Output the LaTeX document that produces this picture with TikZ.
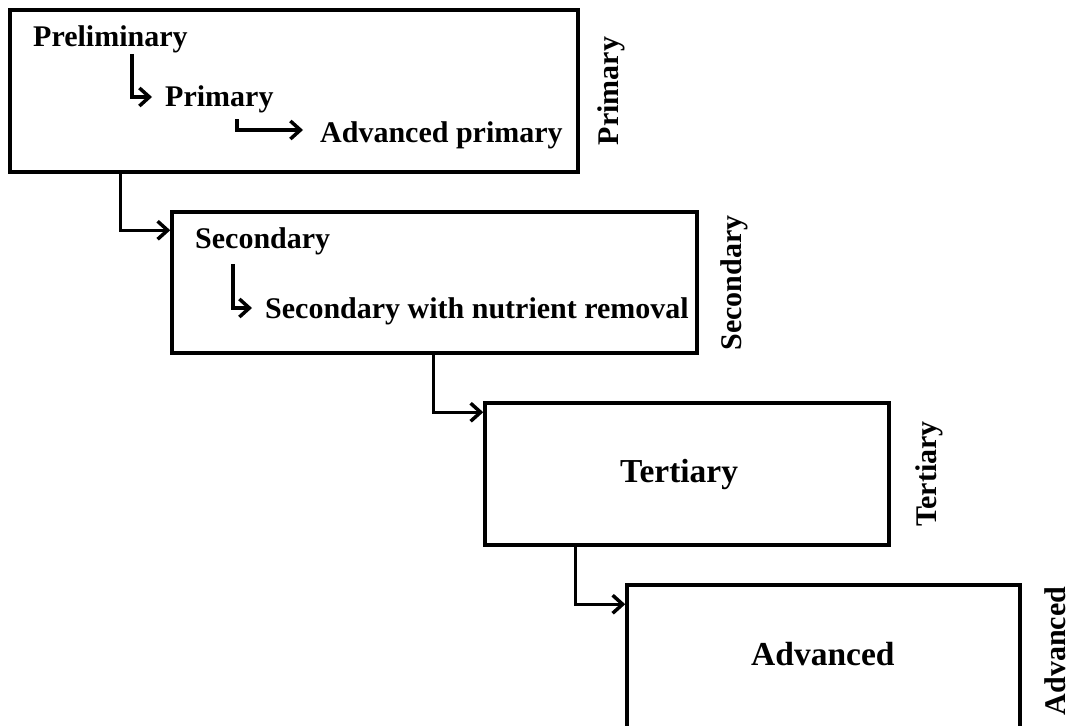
\documentclass[tikz,border=0pt]{standalone}
\usepackage{fontspec}
\setmainfont{Liberation Serif}
\usetikzlibrary{arrows.meta}
\begin{document}
\begin{tikzpicture}[x=1pt,y=-1pt,
    stage/.style={draw, line width=3.5pt, inner sep=0pt},
    txt/.style={font=\fontsize{30}{36}\selectfont\bfseries, inner sep=0pt, anchor=base west},
    bigtxt/.style={font=\fontsize{33.5}{40}\selectfont\bfseries, inner sep=0pt, anchor=base west},
    side/.style={font=\fontsize{30}{36}\selectfont\bfseries, inner sep=0pt, rotate=90},
    arr/.style={-{Straight Barb[length=10pt,width=18pt]}, line width=3.5pt}]
\useasboundingbox (0,0) rectangle (1070,725);
% stages
\node[stage, minimum width=568pt, minimum height=162pt] (box1) at (294,91) {};
\node[stage, minimum width=525pt, minimum height=141pt] (box2) at (434.5,282.5) {};
\node[stage, minimum width=404pt, minimum height=142pt] (box3) at (687,474) {};
\node[stage, minimum width=393pt, minimum height=175pt] (box4) at (823.5,672.5) {};
% texts in the boxes
\node[txt] (prelim) at (33,47) {Preliminary};
\node[txt] (prim) at (165,106) {Primary};
\node[txt] (advprim) at (320,142) {Advanced primary};
\node[txt] (sec) at (195,248) {Secondary};
\node[txt] (secnut) at (265,318) {Secondary with nutrient removal};
\node[bigtxt] (tert) at (620,482) {Tertiary};
\node[bigtxt] (adv) at (751,665) {Advanced};
% side labels
\node[side] (lab1) at (611,91) {Primary};
\node[side] (lab2) at (734,283) {Secondary};
\node[side] (lab3) at (929,474) {Tertiary};
\node[side] (lab4) at (1055,651) {Advanced};
% arrows inside
\draw[arr] ([xshift=99pt,yshift=-7pt]prelim.base west) |- ([xshift=-13pt,yshift=9pt]prim.base west);
\draw[arr] ([xshift=72pt,yshift=-13pt]prim.base west) |- ([xshift=-17pt,yshift=12pt]advprim.base west);
\draw[arr] ([xshift=38pt,yshift=-16pt]sec.base west) |- ([xshift=-13pt,yshift=10pt]secnut.base west);
% arrows between stages
\draw[arr] ([xshift=112pt]box1.south west) |- ([yshift=-20pt]box2.north west);
\draw[arr] ([xshift=263pt]box2.south west) |- ([yshift=-11pt]box3.north west);
\draw[arr] ([xshift=92pt]box3.south west) |- ([yshift=-21pt]box4.north west);
\end{tikzpicture}
\end{document}
